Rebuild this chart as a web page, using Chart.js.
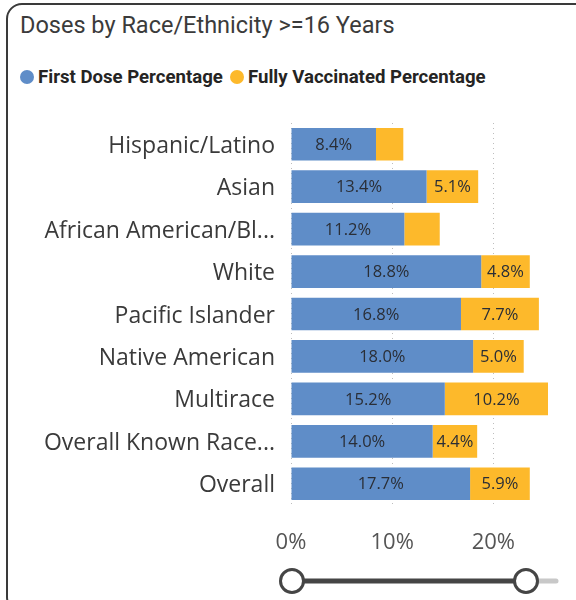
<!DOCTYPE html>
<html>
<head>
<meta charset="utf-8">
<script src="https://cdn.jsdelivr.net/npm/chart.js@4.4.1/dist/chart.umd.min.js"></script>
<style>
  html, body { margin: 0; padding: 0; background: #fff; }
  body { width: 576px; height: 600px; position: relative; overflow: hidden; }
  .card {
    position: absolute; left: 6px; top: 3px; width: 620px; height: 610px;
    border: 2px solid #3a3a3a; border-radius: 16px; box-sizing: border-box;
  }
  .title {
    position: absolute; left: 20px; top: 10px; height: 30px; line-height: 30px;
    font-family: Roboto, sans-serif; font-size: 23.5px; color: #3b3b3b; white-space: nowrap;
  }
  .legend { position: absolute; left: 20px; top: 64px; height: 26px; }
  .legend .item {
    position: absolute; top: 0; height: 26px; line-height: 26px; white-space: nowrap;
    font-family: Roboto, sans-serif; font-weight: bold; font-size: 18.6px; color: #252423;
  }
  .legend .dot {
    display: inline-block; width: 14px; height: 14px; border-radius: 50%;
    vertical-align: -1px; margin-right: 4px;
  }
  canvas { position: absolute; left: 0; top: 0; }
  svg.slider { position: absolute; left: 0; top: 560px; }
</style>
</head>
<body>
<div class="card"></div>
<div class="title">Doses by Race/Ethnicity &gt;=16 Years</div>
<div class="legend" id="legend"></div>
<canvas id="chart" width="576" height="600"></canvas>
<svg class="slider" width="576" height="40">
  <line x1="538" y1="21" x2="556" y2="21" stroke="#c8c8c8" stroke-width="5" stroke-linecap="round"/>
  <line x1="292" y1="21" x2="526" y2="21" stroke="#454545" stroke-width="5"/>
  <circle cx="292" cy="21" r="11.5" fill="#fff" stroke="#454545" stroke-width="3"/>
  <circle cx="526" cy="21" r="11.5" fill="#fff" stroke="#454545" stroke-width="3"/>
</svg>
<script>
// Population groups (long names are shown truncated, as in the report)
const categories = [
  'Hispanic/Latino',
  'Asian',
  'African American/Bl...',
  'White',
  'Pacific Islander',
  'Native American',
  'Multirace',
  'Overall Known Race...',
  'Overall'
];

// Share of people 16+ with a first dose only, in percent
const firstDosePct = [8.4, 13.4, 11.2, 18.8, 16.8, 18.0, 15.2, 14.0, 17.7];

// Share of people 16+ fully vaccinated, in percent
const fullyVaccinatedPct = [2.7, 5.1, 3.5, 4.8, 7.7, 5.0, 10.2, 4.4, 5.9];

// Tick values along the percentage axis
const xTickValues = [0, 10, 20];

const seriesNames = ['First Dose Percentage', 'Fully Vaccinated Percentage'];
const seriesColors = ['#5f8dc8', '#fdb92b'];

// HTML legend
const legendEl = document.getElementById('legend');
const legendLeft = [0, 210];
seriesNames.forEach((name, i) => {
  const item = document.createElement('div');
  item.className = 'item';
  item.style.left = legendLeft[i] + 'px';
  const dot = document.createElement('span');
  dot.className = 'dot';
  dot.style.background = seriesColors[i];
  item.appendChild(dot);
  item.appendChild(document.createTextNode(name));
  legendEl.appendChild(item);
});

const axisMax = Math.max(...firstDosePct.map((v, i) => v + fullyVaccinatedPct[i]));

// Writes each segment's value in its middle, skipping segments too narrow for the text
const barValueLabels = {
  id: 'barValueLabels',
  afterDatasetsDraw(chart) {
    const ctx = chart.ctx;
    ctx.save();
    ctx.font = '16.5px "Open Sans", sans-serif';
    ctx.fillStyle = '#2a2e36';
    ctx.textAlign = 'center';
    ctx.textBaseline = 'middle';
    chart.data.datasets.forEach((ds, di) => {
      const meta = chart.getDatasetMeta(di);
      meta.data.forEach((bar, i) => {
        const text = ds.data[i].toFixed(1) + '%';
        const w = Math.abs(bar.x - bar.base);
        if (ctx.measureText(text).width + 4 > w) return;
        ctx.fillText(text, (bar.x + bar.base) / 2, bar.y + 1);
      });
    });
    ctx.restore();
  }
};

new Chart(document.getElementById('chart'), {
  type: 'bar',
  data: {
    labels: categories,
    datasets: [
      { label: seriesNames[0], data: firstDosePct, backgroundColor: seriesColors[0] },
      { label: seriesNames[1], data: fullyVaccinatedPct, backgroundColor: seriesColors[1] }
    ]
  },
  options: {
    indexAxis: 'y',
    responsive: false,
    animation: false,
    devicePixelRatio: 1,
    layout: { padding: { top: 123, bottom: 35, right: 28, left: 0 } },
    datasets: { bar: { categoryPercentage: 1, barPercentage: 0.77 } },
    plugins: {
      legend: { display: false },
      title: { display: false },
      tooltip: { enabled: false }
    },
    scales: {
      x: {
        stacked: true,
        min: 0,
        max: axisMax,
        afterBuildTicks(scale) {
          scale.ticks = xTickValues.map(v => ({ value: v }));
        },
        afterFit(scale) { scale.height = 60; },
        grid: { color: '#bdbdbd', lineWidth: 1, drawTicks: false },
        border: { display: false, dash: [1, 4] },
        ticks: {
          padding: 25,
          color: '#555555',
          font: { family: '"Open Sans", sans-serif', size: 22 },
          callback: v => v + '%'
        }
      },
      y: {
        stacked: true,
        afterFit(scale) { scale.width = 291; },
        grid: { display: false, drawTicks: false },
        border: { display: false },
        ticks: {
          padding: 16,
          labelOffset: 2,
          color: '#3a3a3a',
          font: { family: '"Open Sans", sans-serif', size: 23 }
        }
      }
    }
  },
  plugins: [barValueLabels]
});
</script>
</body>
</html>
